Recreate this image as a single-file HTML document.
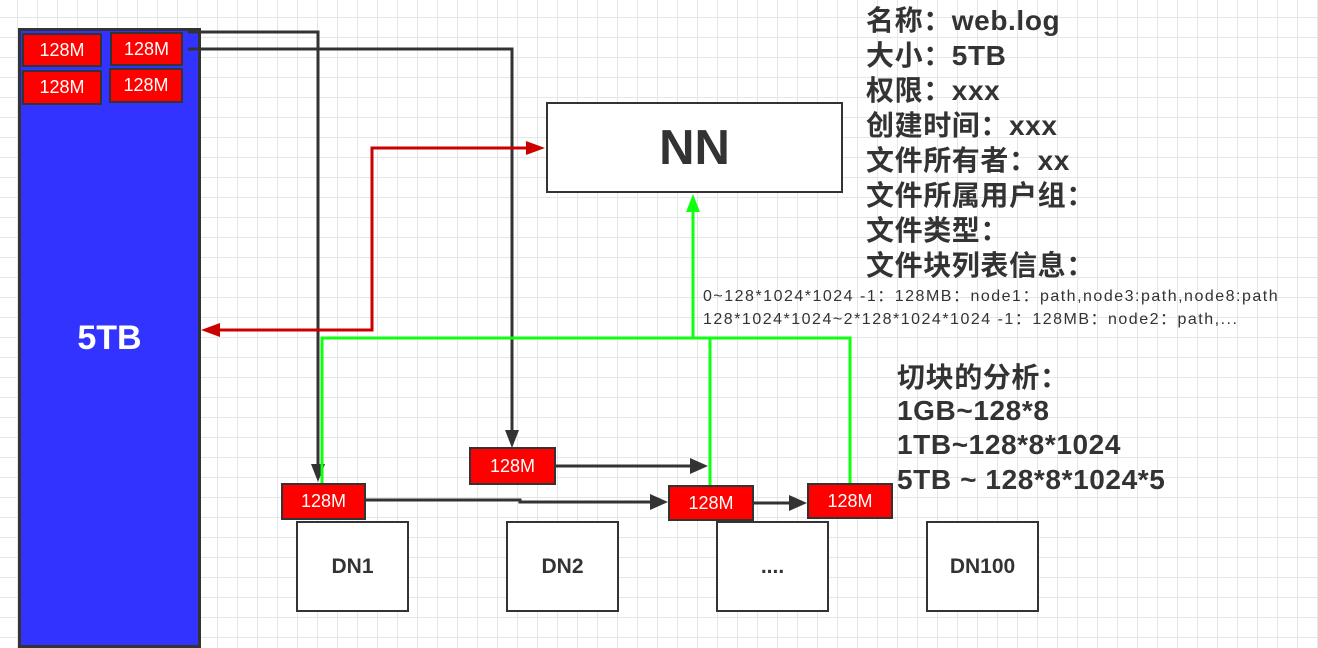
<!DOCTYPE html>
<html><head><meta charset="utf-8"><style>
html,body{margin:0;padding:0}
body{width:1318px;height:624px;overflow:hidden;position:relative;font-family:"Liberation Sans","Noto Sans CJK SC",sans-serif;
background-color:#fff;background-image:linear-gradient(#e6e6e6 1px,transparent 1px),linear-gradient(90deg,#e6e6e6 1px,transparent 1px);background-size:20px 20px;background-position:-3px -3px}
.b{position:absolute;box-sizing:border-box;display:flex;align-items:center;justify-content:center}
.r{background:#f00;border:2px solid #333;color:#fff;font-size:18px}
.dn{background:#fff;border:2px solid #333;color:#333;font-weight:bold;font-size:21px}
.t{position:absolute;font-weight:bold;color:#333;font-size:28px;letter-spacing:0.6px;white-space:nowrap;line-height:1}
.s{position:absolute;color:#333;font-size:16px;letter-spacing:1.5px;white-space:nowrap;line-height:1}
</style></head><body>
<div class="b" style="left:18px;top:28px;width:183px;height:620px;background:#3333ff;border:3px solid #333;color:#fff;font-weight:bold;font-size:34px">5TB</div>
<div class="b r" style="left:22px;top:33px;width:80px;height:34px">128M</div>
<div class="b r" style="left:110px;top:32px;width:73px;height:34px">128M</div>
<div class="b r" style="left:22px;top:70px;width:80px;height:35px">128M</div>
<div class="b r" style="left:109px;top:68px;width:74px;height:35px">128M</div>
<div class="b dn" style="left:546px;top:102px;width:297px;height:91px;font-size:49px">NN</div>
<div class="b dn" style="left:296px;top:521px;width:113px;height:91px">DN1</div>
<div class="b dn" style="left:506px;top:521px;width:113px;height:91px">DN2</div>
<div class="b dn" style="left:716px;top:521px;width:113px;height:91px">....</div>
<div class="b dn" style="left:926px;top:521px;width:113px;height:91px">DN100</div>
<svg width="1318" height="624" style="position:absolute;left:0;top:0">
<g fill="none" stroke="#333" stroke-width="3">
<polyline points="188,32 318,32 318,466"/>
<polyline points="188,49 512,49 512,432"/>
<polyline points="365,500 520,500 520,502 652,502"/>
<polyline points="555,466 692,466"/>
<polyline points="753,503 792,503"/>
</g>
<g fill="#333">
<polygon points="311,464 325,464 318,482"/>
<polygon points="505,430 519,430 512,448"/>
<polygon points="650,494 650,510 668,502"/>
<polygon points="690,458 690,474 708,466"/>
<polygon points="789,495 789,511 807,503"/>
</g>
<g fill="none" stroke="#c00" stroke-width="3">
<polyline points="526,148 372,148 372,330 218,330"/>
</g>
<g fill="#c00">
<polygon points="526,141 526,155 545,148"/>
<polygon points="220,323 220,337 201,330"/>
</g>
<g fill="none" stroke="#1f1" stroke-width="3">
<polyline points="322,483 322,338 850,338 850,483"/>
<polyline points="710,485 710,338"/>
<polyline points="693,338 693,210"/>
</g>
<polygon fill="#1f1" points="686,212 700,212 693,194"/>
</svg>
<div class="b r" style="left:281px;top:483px;width:85px;height:37px">128M</div>
<div class="b r" style="left:469px;top:447px;width:87px;height:38px">128M</div>
<div class="b r" style="left:668px;top:485px;width:86px;height:36px">128M</div>
<div class="b r" style="left:807px;top:483px;width:86px;height:36px">128M</div>
<div class="t" style="left:866px;top:7px">名称：web.log</div>
<div class="t" style="left:866px;top:42px">大小：5TB</div>
<div class="t" style="left:866px;top:77px">权限：xxx</div>
<div class="t" style="left:866px;top:112px">创建时间：xxx</div>
<div class="t" style="left:866px;top:147px">文件所有者：xx</div>
<div class="t" style="left:866px;top:182px">文件所属用户组：</div>
<div class="t" style="left:866px;top:217px">文件类型：</div>
<div class="t" style="left:866px;top:252px">文件块列表信息：</div>
<div class="s" style="left:703px;top:289px">0~128*1024*1024 -1：128MB：node1：path,node3:path,node8:path</div>
<div class="s" style="left:703px;top:312px">128*1024*1024~2*128*1024*1024 -1：128MB：node2：path,...</div>
<div class="t" style="left:897px;top:364px">切块的分析：</div>
<div class="t" style="left:897px;top:397px">1GB~128*8</div>
<div class="t" style="left:897px;top:431px">1TB~128*8*1024</div>
<div class="t" style="left:897px;top:466px">5TB ~ 128*8*1024*5</div>
</body></html>
